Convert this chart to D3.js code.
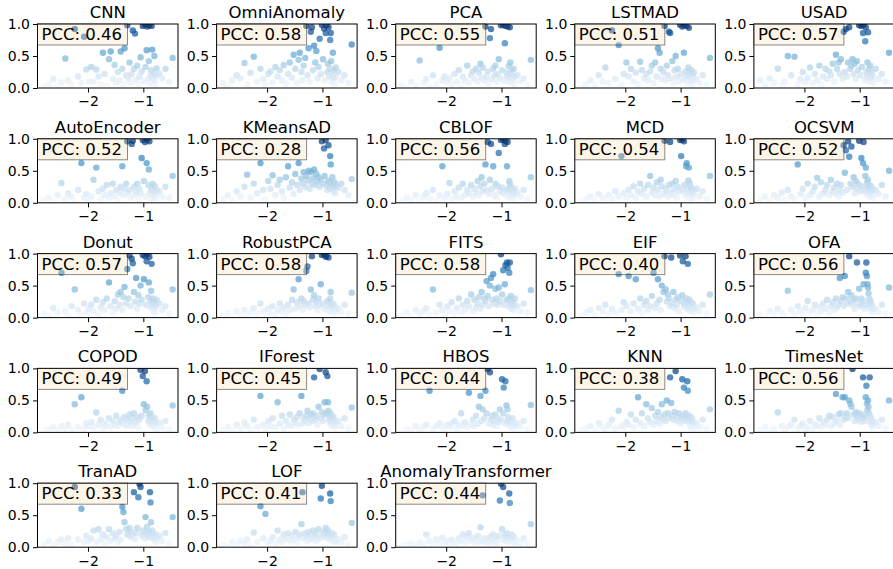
<!DOCTYPE html>
<html>
<head>
<meta charset="utf-8">
<title>PCC scatter grid</title>
<script src="https://d3js.org/d3.v7.min.js"></script>
<style>
  body { margin: 0; background: #fff; }
  text { font-family: "DejaVu Sans", sans-serif; }
</style>
</head>
<body>
<div id="chart"></div>
<script>
// x value per dataset, shared by every panel
var xs = [
  -2.80,-2.71,-2.63,-2.55,-2.48,-2.41,-2.36,-2.30,-2.24,-2.18,-2.12,-2.07,-2.03,-1.98,
  -1.94,-1.90,-1.85,-1.81,-1.77,-1.73,-1.70,-1.66,-1.62,-1.59,-1.55,-1.52,-1.49,-1.46,-1.43,-1.41,-1.38,-1.36,-1.34,-1.31,
  -1.29,-1.27,-1.25,-1.23,-1.21,-1.19,-1.17,-1.15,-1.13,-1.11,-1.09,-1.07,-1.05,-1.03,-1.01,-0.99,-0.97,-0.96,-0.94,-0.93,
  -0.91,-0.90,-0.89,-0.88,-0.87,-0.86,-0.85,-0.84,-0.83,-0.82,-0.81,-0.80,-0.79,-0.78,-0.77,-0.76,
  -0.71,-0.66,-0.60,-0.53,-0.47
];

var models = ["CNN","OmniAnomaly","PCA","LSTMAD","USAD",
              "AutoEncoder","KMeansAD","CBLOF","MCD","OCSVM",
              "Donut","RobustPCA","FITS","EIF","OFA",
              "COPOD","IForest","HBOS","KNN","TimesNet",
              "TranAD","LOF","AnomalyTransformer"];
var pcc = [0.46,0.58,0.55,0.51,0.57,
           0.52,0.28,0.56,0.54,0.52,
           0.57,0.58,0.58,0.40,0.56,
           0.49,0.45,0.44,0.38,0.56,
           0.33,0.41,0.44];

var yCNN = [0.03,0.06,0.14,0.02,0.09,0.46,0.12,0.05,0.92,0.18,0.08,0.80,0.29,0.10,
  0.33,0.10,0.29,0.18,0.06,0.55,0.22,0.04,0.45,0.57,0.14,0.36,0.08,0.25,0.12,0.57,0.30,0.05,0.62,0.20,
  0.98,0.15,0.40,0.08,0.22,0.90,0.30,0.85,0.12,0.35,0.05,0.18,0.48,0.26,0.97,0.10,0.99,0.33,0.59,0.96,0.14,0.42,0.98,0.07,0.20,0.28,0.97,0.60,0.16,0.09,0.24,0.50,0.12,0.19,0.04,0.31,
  0.22,0.15,0.30,0.10,0.47];
var yOmniAnomaly = [0.08,0.03,0.12,0.20,0.15,0.39,0.06,0.24,0.49,0.10,0.30,0.14,0.05,0.22,
  0.26,0.09,0.33,0.18,0.28,0.12,0.36,0.07,0.22,0.40,0.16,0.52,0.30,0.08,0.44,0.55,0.25,0.12,0.35,0.47,
  0.97,0.20,0.62,0.10,0.88,0.95,0.28,0.66,0.40,0.58,0.15,0.33,0.77,0.22,0.99,0.45,0.93,0.12,0.86,0.98,0.25,0.38,0.95,0.18,0.30,0.75,0.86,0.42,0.09,0.20,0.55,0.14,0.28,0.06,0.17,0.32,
  0.25,0.12,0.20,0.08,0.68];
var yPCA = [0.05,0.02,0.10,0.04,0.43,0.08,0.14,0.03,0.20,0.06,0.63,0.12,0.18,0.09,
  0.15,0.06,0.22,0.10,0.28,0.04,0.18,0.12,0.35,0.08,0.20,0.26,0.14,0.30,0.10,0.24,0.38,0.16,0.32,0.12,
  0.96,0.18,0.26,0.08,0.78,0.92,0.14,0.30,0.20,0.35,0.10,0.22,0.45,0.16,0.98,0.28,0.99,0.12,0.70,0.97,0.24,0.18,0.96,0.10,0.34,0.22,0.95,0.40,0.15,0.08,0.28,0.20,0.12,0.30,0.06,0.18,
  0.20,0.10,0.15,0.05,0.44];
var yLSTMAD = [0.02,0.06,0.12,0.04,0.20,0.10,0.32,0.08,0.90,0.14,0.67,0.05,0.22,0.40,
  0.18,0.30,0.10,0.24,0.06,0.41,0.28,0.15,0.22,0.12,0.26,0.35,0.08,0.40,0.18,0.62,0.55,0.30,0.14,0.25,
  0.97,0.12,0.35,0.20,0.88,0.86,0.15,0.42,0.08,0.28,0.50,0.18,0.30,0.10,0.99,0.22,0.96,0.14,0.55,0.98,0.26,0.12,0.97,0.20,0.08,0.32,0.94,0.18,0.24,0.10,0.16,0.28,0.06,0.20,0.12,0.24,
  0.14,0.08,0.20,0.06,0.47];
var yUSAD = [0.12,0.05,0.15,0.08,0.30,0.04,0.10,0.50,0.20,0.49,0.06,0.14,0.25,0.09,
  0.16,0.32,0.08,0.22,0.12,0.35,0.05,0.18,0.30,0.14,0.26,0.20,0.38,0.10,0.52,0.30,0.40,0.22,0.45,0.15,
  0.88,0.25,0.92,0.18,0.40,0.95,0.30,0.35,0.45,0.22,0.38,0.14,0.42,0.28,0.98,0.20,0.97,0.33,0.86,0.99,0.12,0.73,0.95,0.25,0.18,0.40,0.87,0.22,0.30,0.10,0.35,0.16,0.26,0.12,0.20,0.08,
  0.30,0.14,0.22,0.10,0.55];
var yAutoEncoder = [0.04,0.08,0.02,0.12,0.31,0.06,0.15,0.10,0.03,0.20,0.62,0.08,0.14,0.05,
  0.10,0.36,0.55,0.18,0.06,0.22,0.12,0.28,0.08,0.15,0.30,0.10,0.20,0.05,0.16,0.25,0.57,0.12,0.22,0.30,
  0.96,0.14,0.20,0.08,0.92,0.97,0.25,0.12,0.18,0.30,0.06,0.22,0.15,0.70,0.98,0.34,0.95,0.10,0.62,0.99,0.28,0.52,0.96,0.16,0.08,0.24,0.12,0.20,0.30,0.06,0.18,0.10,0.26,0.14,0.08,0.20,
  0.18,0.10,0.25,0.08,0.42];
var yKMeansAD = [0.06,0.12,0.04,0.18,0.10,0.25,0.44,0.08,0.30,0.15,0.62,0.20,0.05,0.34,
  0.22,0.43,0.12,0.28,0.36,0.18,0.08,0.40,0.57,0.24,0.32,0.14,0.45,0.28,0.62,0.20,0.38,0.30,0.48,0.25,
  0.42,0.35,0.50,0.22,0.48,0.30,0.38,0.52,0.28,0.45,0.33,0.40,0.25,0.36,0.96,0.30,0.85,0.42,0.98,0.28,0.20,0.35,0.90,0.24,0.32,0.73,0.60,0.30,0.22,0.40,0.28,0.18,0.33,0.25,0.15,0.30,
  0.24,0.30,0.20,0.12,0.37];
var yCBLOF = [0.03,0.08,0.05,0.12,0.02,0.10,0.15,0.06,0.20,0.04,0.12,0.57,0.08,0.14,
  0.31,0.06,0.18,0.10,0.24,0.08,0.30,0.12,0.20,0.15,0.28,0.10,0.22,0.16,0.34,0.12,0.26,0.40,0.18,0.30,
  0.60,0.20,0.95,0.14,0.36,0.92,0.22,0.57,0.12,0.30,0.08,0.26,0.78,0.18,0.98,0.24,0.99,0.15,0.92,0.97,0.20,0.57,0.95,0.10,0.22,0.34,0.30,0.16,0.26,0.08,0.20,0.12,0.18,0.06,0.14,0.22,
  0.16,0.10,0.20,0.06,0.40];
var yMCD = [0.02,0.06,0.10,0.04,0.14,0.08,0.03,0.12,0.06,0.18,0.10,0.73,0.15,0.08,
  0.20,0.12,0.26,0.08,0.18,0.30,0.14,0.22,0.10,0.28,0.42,0.16,0.24,0.12,0.32,0.20,0.10,0.36,0.26,0.14,
  0.97,0.22,0.18,0.10,0.28,0.95,0.14,0.30,0.20,0.12,0.34,0.08,0.25,0.18,0.98,0.73,0.99,0.20,0.96,0.28,0.14,0.57,0.62,0.10,0.22,0.35,0.55,0.16,0.30,0.06,0.24,0.12,0.18,0.08,0.20,0.14,
  0.22,0.10,0.18,0.06,0.42];
var yOCSVM = [0.05,0.10,0.03,0.12,0.08,0.16,0.04,0.20,0.10,0.06,0.60,0.14,0.22,0.08,
  0.30,0.12,0.18,0.25,0.39,0.10,0.32,0.15,0.20,0.28,0.12,0.36,0.18,0.24,0.14,0.30,0.10,0.20,0.28,0.16,
  0.90,0.47,0.82,0.20,0.96,0.72,0.30,0.88,0.25,0.40,0.15,0.34,0.22,0.30,0.97,0.18,0.70,0.26,0.62,0.95,0.20,0.42,0.55,0.14,0.32,0.24,0.36,0.18,0.28,0.10,0.22,0.16,0.26,0.12,0.20,0.08,
  0.20,0.14,0.28,0.10,0.50];
var yDonut = [0.06,0.03,0.15,0.08,0.70,0.10,0.05,0.18,0.44,0.12,0.04,0.22,0.08,0.14,
  0.20,0.10,0.28,0.06,0.16,0.24,0.12,0.30,0.55,0.18,0.08,0.26,0.14,0.36,0.20,0.40,0.12,0.32,0.48,0.22,
  0.76,0.30,0.97,0.18,0.92,0.85,0.40,0.25,0.62,0.14,0.35,0.22,0.50,0.28,0.98,0.60,0.96,0.20,0.88,0.99,0.32,0.55,0.95,0.16,0.26,0.42,0.84,0.20,0.30,0.10,0.24,0.14,0.22,0.08,0.18,0.28,
  0.22,0.12,0.18,0.06,0.44];
var yRobustPCA = [0.03,0.07,0.02,0.10,0.05,0.12,0.04,0.08,0.15,0.06,0.22,0.10,0.03,0.14,
  0.08,0.18,0.05,0.12,0.22,0.10,0.16,0.06,0.20,0.12,0.28,0.44,0.14,0.24,0.60,0.18,0.30,0.12,0.26,0.20,
  0.73,0.80,0.22,0.16,0.44,0.96,0.28,0.35,0.18,0.25,0.12,0.30,0.20,0.52,0.98,0.22,0.99,0.14,0.95,0.97,0.26,0.18,0.94,0.10,0.24,0.30,0.40,0.16,0.20,0.08,0.14,0.22,0.10,0.18,0.06,0.12,
  0.14,0.08,0.20,0.06,0.39];
var yFITS = [0.04,0.08,0.02,0.12,0.06,0.10,0.15,0.05,0.44,0.08,0.20,0.12,0.03,0.18,
  0.10,0.24,0.06,0.15,0.30,0.08,0.20,0.12,0.26,0.18,0.36,0.10,0.28,0.16,0.22,0.32,0.14,0.40,0.20,0.30,
  0.26,0.57,0.34,0.18,0.50,0.62,0.28,0.68,0.22,0.45,0.30,0.20,0.47,0.26,0.99,0.36,0.74,0.20,0.52,0.82,0.28,0.86,0.78,0.18,0.30,0.70,0.86,0.22,0.34,0.14,0.26,0.18,0.24,0.12,0.20,0.30,
  0.18,0.10,0.22,0.08,0.43];
var yEIF = [0.03,0.08,0.12,0.05,0.15,0.10,0.20,0.06,0.14,0.08,0.68,0.12,0.24,0.18,
  0.65,0.10,0.22,0.60,0.14,0.30,0.08,0.20,0.26,0.12,0.18,0.34,0.70,0.15,0.22,0.60,0.28,0.12,0.50,0.40,
  0.96,0.44,0.25,0.36,0.30,0.18,0.94,0.22,0.40,0.15,0.28,0.20,0.32,0.10,0.97,0.26,0.35,0.88,0.18,0.22,0.96,0.30,0.14,0.24,0.84,0.16,0.20,0.28,0.12,0.18,0.24,0.10,0.16,0.22,0.08,0.14,
  0.16,0.10,0.20,0.06,0.36];
var yOFA = [0.05,0.02,0.10,0.06,0.14,0.08,0.03,0.42,0.12,0.06,0.18,0.10,0.04,0.15,
  0.26,0.08,0.12,0.20,0.06,0.16,0.10,0.22,0.14,0.28,0.08,0.18,0.24,0.12,0.30,0.16,0.20,0.62,0.26,0.32,
  0.18,0.65,0.30,0.22,0.40,0.96,0.25,0.35,0.20,0.28,0.14,0.30,0.86,0.22,0.45,0.18,0.30,0.20,0.26,0.52,0.14,0.20,0.70,0.86,0.65,0.52,0.47,0.38,0.30,0.22,0.16,0.26,0.12,0.20,0.08,0.14,
  0.14,0.08,0.20,0.06,0.47];
var yCOPOD = [0.02,0.05,0.08,0.03,0.10,0.06,0.12,0.04,0.44,0.08,0.55,0.06,0.14,0.10,
  0.16,0.08,0.31,0.12,0.20,0.06,0.14,0.10,0.22,0.08,0.18,0.12,0.26,0.10,0.16,0.20,0.65,0.14,0.24,0.10,
  0.20,0.12,0.28,0.16,0.22,0.10,0.30,0.18,0.14,0.24,0.08,0.20,0.98,0.26,0.88,0.44,0.96,0.35,0.80,0.40,0.18,0.28,0.22,0.12,0.30,0.16,0.24,0.10,0.20,0.14,0.18,0.08,0.22,0.12,0.16,0.06,
  0.15,0.08,0.18,0.05,0.42];
var yIForest = [0.04,0.08,0.03,0.12,0.06,0.15,0.10,0.05,0.20,0.08,0.57,0.12,0.06,0.18,
  0.10,0.22,0.08,0.47,0.14,0.26,0.06,0.18,0.12,0.28,0.10,0.20,0.16,0.24,0.12,0.30,0.57,0.14,0.22,0.18,
  0.26,0.34,0.14,0.22,0.28,0.18,0.30,0.86,0.20,0.26,0.12,0.40,0.99,0.22,0.32,0.18,0.28,0.47,0.94,0.30,0.88,0.47,0.34,0.20,0.26,0.14,0.30,0.18,0.22,0.10,0.16,0.24,0.12,0.18,0.08,0.14,
  0.18,0.10,0.22,0.06,0.39];
var yHBOS = [0.02,0.06,0.03,0.10,0.05,0.08,0.12,0.65,0.06,0.10,0.14,0.08,0.04,0.12,
  0.08,0.14,0.18,0.06,0.12,0.30,0.10,0.16,0.08,0.62,0.12,0.20,0.10,0.26,0.14,0.40,0.57,0.18,0.36,0.22,
  0.65,0.30,0.99,0.14,0.94,0.20,0.26,0.12,0.18,0.28,0.10,0.22,0.16,0.36,0.20,0.83,0.30,0.70,0.14,0.80,0.42,0.18,0.36,0.24,0.12,0.20,0.16,0.10,0.18,0.08,0.14,0.22,0.10,0.16,0.06,0.12,
  0.14,0.08,0.18,0.05,0.43];
var yKNN = [0.03,0.06,0.10,0.04,0.14,0.08,0.05,0.12,0.20,0.06,0.34,0.10,0.08,0.16,
  0.12,0.28,0.08,0.20,0.55,0.14,0.30,0.10,0.44,0.22,0.16,0.38,0.12,0.26,0.18,0.32,0.14,0.24,0.44,0.20,
  0.28,0.18,0.50,0.30,0.22,0.86,0.46,0.26,0.20,0.32,0.96,0.24,0.18,0.30,0.14,0.22,0.83,0.26,0.70,0.18,0.30,0.24,0.20,0.80,0.65,0.22,0.16,0.26,0.12,0.20,0.08,0.18,0.22,0.10,0.16,0.06,
  0.14,0.08,0.20,0.06,0.36];
var yTimesNet = [0.04,0.08,0.02,0.06,0.31,0.10,0.04,0.08,0.12,0.20,0.06,0.10,0.14,0.05,
  0.08,0.18,0.06,0.12,0.10,0.22,0.08,0.16,0.12,0.20,0.26,0.10,0.24,0.14,0.60,0.18,0.28,0.12,0.30,0.55,
  0.20,0.55,0.24,0.30,0.22,0.50,0.45,0.40,0.99,0.28,0.18,0.32,0.26,0.20,0.30,0.24,0.16,0.22,0.86,0.28,0.18,0.24,0.55,0.73,0.45,0.35,0.50,0.40,0.30,0.86,0.16,0.24,0.12,0.18,0.08,0.14,
  0.16,0.10,0.20,0.06,0.50];
var yTranAD = [0.05,0.10,0.03,0.08,0.12,0.06,0.14,0.04,0.94,0.12,0.60,0.08,0.18,0.10,
  0.14,0.26,0.08,0.28,0.12,0.20,0.06,0.16,0.28,0.10,0.22,0.14,0.18,0.08,0.24,0.12,0.63,0.55,0.39,0.28,
  0.20,0.20,0.30,0.16,0.24,0.18,0.86,0.12,0.22,0.30,0.78,0.99,0.94,0.18,0.26,0.20,0.14,0.47,0.22,0.32,0.16,0.24,0.18,0.86,0.70,0.39,0.20,0.26,0.14,0.22,0.18,0.12,0.16,0.20,0.08,0.14,
  0.18,0.10,0.22,0.06,0.47];
var yLOF = [0.04,0.02,0.08,0.05,0.10,0.06,0.12,0.03,0.23,0.08,0.64,0.14,0.52,0.06,
  0.10,0.16,0.06,0.26,0.12,0.08,0.20,0.14,0.22,0.10,0.18,0.12,0.24,0.08,0.16,0.20,0.36,0.86,0.14,0.22,
  0.18,0.10,0.24,0.14,0.20,0.12,0.26,0.16,0.22,0.10,0.18,0.28,0.14,0.76,0.96,0.20,0.24,0.16,0.30,0.22,0.18,0.26,0.14,0.20,0.12,0.84,0.72,0.18,0.22,0.10,0.16,0.12,0.20,0.08,0.14,0.10,
  0.12,0.08,0.16,0.05,0.38];
var yAnomalyTransformer = [0.02,0.04,0.06,0.03,0.08,0.05,0.20,0.10,0.04,0.12,0.06,0.15,0.08,0.10,
  0.05,0.12,0.08,0.06,0.14,0.10,0.20,0.08,0.16,0.22,0.10,0.14,0.06,0.12,0.18,0.08,0.31,0.10,0.81,0.14,
  0.08,0.12,0.06,0.10,0.16,0.08,0.12,0.20,0.10,0.06,0.14,0.08,0.18,0.73,0.99,0.28,0.94,0.12,0.20,0.10,0.16,0.22,0.12,0.18,0.08,0.84,0.69,0.14,0.20,0.10,0.16,0.12,0.18,0.08,0.14,0.06,
  0.10,0.06,0.14,0.05,0.36];

var ySeries = [yCNN,yOmniAnomaly,yPCA,yLSTMAD,yUSAD,
               yAutoEncoder,yKMeansAD,yCBLOF,yMCD,yOCSVM,
               yDonut,yRobustPCA,yFITS,yEIF,yOFA,
               yCOPOD,yIForest,yHBOS,yKNN,yTimesNet,
               yTranAD,yLOF,yAnomalyTransformer];

// layout
var W = 893, H = 569;
var ncol = 5;
var axLeft0 = 37.5, axTop0 = 24, colStep = 179.1, rowStep = 114.8;
var axW = 140.5, axH = 64;

var svg = d3.select("#chart").append("svg")
    .attr("width", W).attr("height", H)
    .style("display", "block")
    .style("background", "#fff");

var x = d3.scaleLinear().domain([-2.913, -0.373]).range([0, axW]);
var y = d3.scaleLinear().domain([0, 1]).range([axH, 0]);
var color = function(v) { return d3.interpolateBlues(Math.max(0, Math.min(1, v))); };

models.forEach(function(name, i) {
    var c = i % ncol, r = Math.floor(i / ncol);
    var g = svg.append("g")
        .attr("transform", "translate(" + (axLeft0 + c * colStep) + "," + (axTop0 + r * rowStep) + ")");

    var ys = ySeries[i];
    var pts = xs.map(function(xv, k) { return {x: xv, y: ys[k]}; })
                .filter(function(d) { return d.y !== undefined; });

    g.append("clipPath").attr("id", "clip" + i)
      .append("rect").attr("width", axW).attr("height", axH);

    g.append("g").attr("clip-path", "url(#clip" + i + ")")
      .selectAll("circle")
      .data(pts)
      .enter()
      .append("circle")
      .attr("cx", function(d) { return x(d.x); })
      .attr("cy", function(d) { return y(d.y); })
      .attr("r", 3.2)
      .attr("fill", function(d) { return color(d.y); })
      .attr("fill-opacity", 0.7);

    // axes
    var xa = g.append("g").attr("transform", "translate(0," + axH + ")")
        .call(d3.axisBottom(x).tickValues([-2, -1]).tickFormat(d3.format("d"))
              .tickSize(4.5).tickSizeOuter(0).tickPadding(4));
    var ya = g.append("g")
        .call(d3.axisLeft(y).tickValues([0, 0.5, 1]).tickFormat(d3.format(".1f"))
              .tickSize(4.5).tickSizeOuter(0).tickPadding(3));
    [xa, ya].forEach(function(a) {
        a.select(".domain").remove();
        a.selectAll("line").attr("stroke", "#000").attr("stroke-width", 1);
        a.selectAll("text").attr("fill", "#000")
          .style("font-size", "14px").style("font-family", "DejaVu Sans");
    });

    g.append("rect")
      .attr("width", axW).attr("height", axH)
      .attr("fill", "none").attr("stroke", "#000").attr("stroke-width", 1);

    // title
    g.append("text")
      .attr("x", axW / 2).attr("y", -6)
      .attr("text-anchor", "middle")
      .style("font-size", "16.5px")
      .attr("fill", "#000")
      .text(name);

    // PCC box
    g.append("rect")
      .attr("x", 0).attr("y", 0)
      .attr("width", 90).attr("height", 21)
      .attr("fill", "#f5deb3").attr("fill-opacity", 0.3)
      .attr("stroke", "#000").attr("stroke-opacity", 0.45).attr("stroke-width", 1);
    g.append("text")
      .attr("x", 4).attr("y", 16)
      .style("font-size", "16.5px")
      .attr("fill", "#000")
      .text("PCC: " + d3.format(".2f")(pcc[i]));
});
</script>
</body>
</html>
